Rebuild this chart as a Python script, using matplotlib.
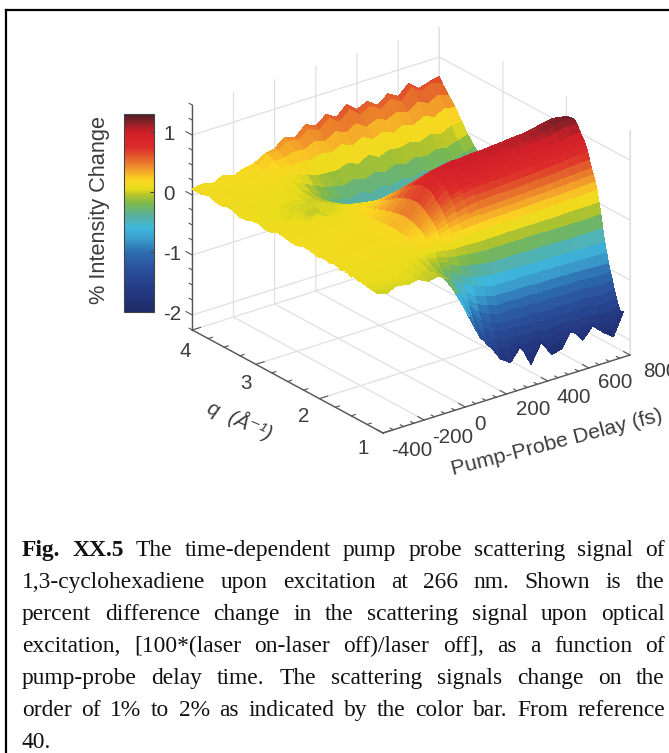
#!/usr/bin/env python3

import numpy as np
import matplotlib
matplotlib.use("Agg")
import matplotlib.pyplot as plt
from matplotlib.cm import ScalarMappable
from matplotlib.colors import LinearSegmentedColormap, Normalize
from matplotlib.lines import Line2D
from matplotlib.transforms import Affine2D
from mpl_toolkits.mplot3d import proj3d

delay = [-400, -350, -300, -250, -200, -150, -100, -50, 0, 50, 100, 150, 200,
         250, 300, 350, 400, 450, 500, 550, 600, 650, 700, 750, 800]
q_values = [1.10, 1.13, 1.16, 1.19, 1.22, 1.25, 1.28, 1.31, 1.34, 1.37, 1.40, 1.43, 1.46, 1.49,
            1.52, 1.55, 1.58, 1.61, 1.64, 1.67, 1.70, 1.73, 1.78, 1.83, 1.88, 1.93, 1.98, 2.05,
            2.15, 2.25, 2.35, 2.45, 2.55, 2.65, 2.75, 2.85, 2.95, 3.05, 3.15, 3.25, 3.35, 3.45,
            3.55, 3.65, 3.75, 3.85, 3.95, 4.00]
# one row per q value, one column per delay, in hundredths of a percent
intensity = [
    [2,-3,5,0,4,-5,-2,-12,-42,-85,-125,-145,-172,-184,-162,-198,-166,-192,-188,-160,-185,-166,-182,-195,-158],
    [3,0,4,2,3,-4,-1,-13,-44,-83,-120,-146,-162,-174,-165,-183,-168,-180,-176,-166,-178,-168,-178,-182,-160],
    [3,6,0,7,2,-2,1,-14,-42,-78,-114,-138,-152,-162,-158,-166,-160,-170,-166,-164,-168,-162,-170,-172,-160],
    [4,3,4,5,4,-1,0,-13,-40,-74,-107,-130,-143,-150,-148,-153,-150,-156,-153,-152,-155,-152,-157,-158,-151],
    [5,2,6,3,5,0,-3,-12,-37,-68,-98,-120,-132,-138,-136,-140,-138,-142,-140,-140,-142,-140,-144,-144,-140],
    [4,6,3,6,2,3,-2,-11,-34,-62,-89,-109,-120,-126,-125,-128,-126,-129,-128,-128,-130,-128,-131,-132,-129],
    [6,8,4,7,2,4,0,-10,-30,-56,-80,-97,-107,-112,-110,-113,-112,-114,-113,-114,-115,-114,-116,-117,-115],
    [5,4,7,3,6,2,2,-8,-26,-49,-70,-86,-94,-99,-98,-100,-99,-101,-100,-101,-102,-101,-103,-104,-103],
    [8,5,9,4,7,3,2,-7,-22,-42,-60,-74,-81,-85,-85,-86,-85,-87,-87,-87,-88,-88,-89,-90,-90],
    [6,9,5,8,4,5,3,-5,-18,-34,-49,-60,-66,-70,-70,-71,-70,-71,-71,-72,-72,-73,-73,-74,-74],
    [6,10,5,9,5,6,3,-3,-14,-26,-38,-46,-51,-54,-54,-55,-55,-56,-56,-56,-57,-57,-58,-58,-58],
    [9,6,9,5,8,4,5,-1,-8,-16,-24,-29,-32,-35,-35,-35,-35,-36,-36,-36,-37,-37,-37,-37,-37],
    [10,6,10,6,10,5,6,2,-3,-7,-10,-12,-14,-15,-15,-15,-15,-15,-15,-16,-16,-16,-16,-16,-15],
    [7,11,7,10,5,9,6,5,3,2,1,1,0,0,0,1,1,1,1,1,1,2,2,2,3],
    [7,11,8,12,6,10,8,8,10,11,12,14,15,16,16,17,17,18,18,19,19,20,20,21,22],
    [11,8,11,8,11,8,10,10,13,17,20,23,25,26,27,27,28,28,29,30,30,31,32,33,34],
    [9,12,9,11,9,10,9,12,16,22,27,31,34,35,36,37,37,38,39,39,40,41,42,43,44],
    [12,8,12,8,12,8,11,13,19,27,33,38,41,43,44,45,45,46,47,48,49,50,51,52,53],
    [9,12,10,13,9,11,10,14,22,32,41,47,51,54,55,56,56,57,58,59,60,61,63,64,65],
    [8,13,10,14,9,12,10,16,25,37,47,55,60,63,64,65,66,67,68,69,71,72,74,76,77],
    [12,10,13,10,12,9,12,17,27,41,53,62,67,71,72,73,73,75,76,77,79,80,82,84,85],
    [11,13,11,13,11,12,11,18,29,44,57,67,73,77,78,79,80,81,82,84,86,87,89,92,93],
    [13,10,14,10,13,9,13,19,31,48,62,74,80,84,85,86,87,88,90,91,93,95,97,100,101],
    [10,14,11,15,10,14,12,21,35,52,69,81,88,92,93,94,96,97,99,101,103,105,109,113,112],
    [12,11,15,11,14,11,13,21,36,56,73,86,94,98,97,100,99,103,101,105,106,110,115,120,118],
    [13,10,16,11,15,11,14,22,37,58,76,90,97,101,99,104,101,106,104,108,109,113,118,123,118],
    [11,14,11,15,12,14,12,22,37,57,75,89,96,100,99,102,101,104,103,106,107,110,115,119,116],
    [10,15,10,16,11,15,12,22,36,56,74,87,94,97,97,99,99,101,102,104,105,108,112,115,112],
    [14,10,14,10,14,11,13,21,33,51,67,78,83,86,85,87,87,89,89,91,93,95,98,100,98],
    [14,9,15,10,16,10,14,20,30,45,58,66,70,72,71,73,72,75,74,76,78,80,82,84,82],
    [10,13,9,14,9,13,10,18,26,37,48,54,58,58,60,58,61,59,62,60,64,63,66,66,64],
    [10,14,9,15,10,14,10,16,22,30,38,42,46,44,48,45,49,46,50,47,52,50,54,52,50],
    [13,8,13,8,13,7,10,14,18,23,27,30,30,33,29,34,29,33,30,34,31,35,33,36,34],
    [14,8,14,9,15,8,12,13,15,17,16,18,15,19,16,20,15,19,16,20,17,21,18,20,19],
    [9,13,6,12,5,9,4,9,10,10,7,6,3,7,3,8,2,7,4,8,4,9,6,9,8],
    [8,13,4,11,-2,6,-3,6,6,3,0,-3,-6,-3,-7,-3,-7,-2,-6,-2,-6,-2,-5,-2,-3],
    [12,5,9,1,7,-4,1,3,1,-4,-9,-13,-17,-13,-18,-14,-18,-12,-16,-12,-16,-11,-14,-10,-9],
    [11,5,10,-2,8,-5,3,2,-3,-10,-17,-22,-27,-23,-28,-24,-29,-23,-27,-22,-26,-20,-23,-18,-16],
    [7,11,5,9,0,6,0,0,-6,-15,-24,-30,-36,-31,-37,-32,-38,-31,-35,-30,-34,-28,-30,-24,-21],
    [6,10,4,9,1,6,2,-1,-9,-20,-30,-37,-42,-38,-44,-40,-45,-38,-43,-37,-40,-34,-37,-30,-26],
    [11,6,11,5,10,4,6,1,-8,-21,-32,-39,-45,-41,-47,-42,-47,-41,-45,-39,-43,-36,-38,-32,-27],
    [12,7,12,6,12,5,7,2,-6,-18,-28,-36,-40,-35,-42,-36,-40,-34,-38,-32,-36,-28,-30,-24,-18],
    [8,14,7,14,8,13,9,8,1,-8,-16,-20,-24,-18,-25,-18,-23,-16,-20,-14,-19,-12,-15,-9,-4],
    [10,14,8,15,9,14,10,13,9,5,-2,-3,-4,3,-5,5,-4,3,0,5,0,7,2,10,12],
    [14,7,15,8,16,9,15,20,19,20,18,23,20,28,20,29,20,27,20,28,22,32,24,34,30],
    [9,15,10,17,10,17,16,26,27,32,30,38,33,44,36,46,35,42,36,44,38,50,42,50,44],
    [10,15,9,18,11,18,18,32,32,44,40,52,46,60,48,64,50,58,48,60,50,68,56,64,58],
    [10,13,8,17,10,17,20,30,34,48,42,58,50,64,54,70,56,64,52,66,56,72,58,64,68],
]

delay_ticks = [-400, -200, 0, 200, 400, 600, 800]
delay_minor = list(range(-400, 801, 50))
q_ticks = [1, 2, 3, 4]
q_minor = [1, 1.25, 1.5, 1.75, 2, 2.25, 2.5, 2.75, 3, 3.25, 3.5, 3.75, 4]
z_ticks = [-2, -1, 0, 1]
z_minor = [-2.25, -2, -1.75, -1.5, -1.25, -1, -0.75, -0.5, -0.25, 0, 0.25, 0.5, 0.75, 1, 1.25, 1.5]
bar_ticks = [-2, -1, 0, 1]

caption = [
    "Fig. XX.5 The time-dependent pump probe scattering signal of",
    "1,3-cyclohexadiene upon excitation at 266 nm. Shown is the",
    "percent difference change in the scattering signal upon optical",
    "excitation, [100*(laser on-laser off)/laser off], as a function of",
    "pump-probe delay time. The scattering signals change on the",
    "order of 1% to 2% as indicated by the color bar. From reference",
    "40.",
]

# colour bar stops, value then colour
stops = [(-2.0, "#1c2a66"), (-1.7, "#24367f"), (-1.3, "#2a4f9a"), (-1.0, "#2d6db0"),
         (-0.8, "#3a9acb"), (-0.6, "#3fb8dc"), (-0.4, "#58b0a0"), (-0.2, "#7ab84e"),
         (-0.05, "#b4c42c"), (0.05, "#e8dc1c"), (0.2, "#fbd722"), (0.35, "#f4a52a"),
         (0.55, "#e4652c"), (0.75, "#dc2a2a"), (1.0, "#d01f28"), (1.15, "#8e2028"),
         (1.3, "#4a1c24")]

W, H = 669, 753
TEXT = "#3c3c3c"
plt.rcParams["font.family"] = ["Liberation Sans", "DejaVu Sans"]
plt.rcParams["axes.unicode_minus"] = False

norm = Normalize(-2, 1.3)
cmap = LinearSegmentedColormap.from_list(
    "bar", [((v + 2) / 3.3, c) for v, c in stops], N=512)

fig = plt.figure(figsize=(W / 100, H / 100), dpi=100)
# pixels measured from the top left
px = Affine2D().scale(1, -1).translate(0, H)

ax = fig.add_axes([0, 0, 1, W / H], projection="3d", proj_type="ortho", computed_zorder=False)
ax.view_init(elev=24.4, azim=-127.4)
ax.set_box_aspect((311, 314, 247))
ax.set_xlim(-400, 800, view_margin=0)
ax.set_ylim(1, 4, view_margin=0)
ax.set_zlim(-2.25, 1.5, view_margin=0)
ax.set_xticks(delay_ticks, [""] * len(delay_ticks))
ax.set_yticks(q_ticks, [""] * len(q_ticks))
ax.set_zticks(z_ticks, [""] * len(z_ticks))
ax.patch.set_alpha(0)

for axis in (ax.xaxis, ax.yaxis, ax.zaxis):
    axis.set_pane_color((1, 1, 1, 0))
    axis.pane.set_edgecolor((1, 1, 1, 0))
    axis.line.set_color((1, 1, 1, 0))
    axis._axinfo["grid"].update(color="#e0e0e0", linewidth=0.9)
    axis._axinfo["tick"]["inward_factor"] = 0
    axis._axinfo["tick"]["outward_factor"] = 0
ax.tick_params(color=(1, 1, 1, 0))

T, Q = np.meshgrid(delay, q_values)
ax.plot_surface(T, Q, np.array(intensity) / 100, cmap=cmap, norm=norm, rstride=1, cstride=1,
                linewidth=0, antialiased=False, shade=False, zorder=3)

# box edges and inward ticks
AXC = "#555555"
ax.plot([-400, 800], [1, 1], [-2.25, -2.25], color=AXC, lw=1.0, zorder=2)
ax.plot([-400, -400], [1, 4], [-2.25, -2.25], color=AXC, lw=1.0, zorder=2)
ax.plot([-400, -400], [4, 4], [-2.25, 1.5], color=AXC, lw=1.0, zorder=2)
ax.plot([800, 800], [1, 1], [-2.25, 1.5], color="#e0e0e0", lw=0.9, zorder=1)
for t in delay_minor:
    n = 0.1 if t in delay_ticks else 0.05
    ax.plot([t, t], [1, 1 + n], [-2.25, -2.25], color=AXC, lw=0.8, zorder=2)
for q in q_minor:
    n = 40 if q in q_ticks else 20
    ax.plot([-400, -400 + n], [q, q], [-2.25, -2.25], color=AXC, lw=0.8, zorder=2)
for z in z_minor:
    n = 0.1 if z in z_ticks else 0.05
    ax.plot([-400, -400], [4, 4 + n], [z, z], color=AXC, lw=0.8, zorder=2)


def project(x, y, z):
    xs, ys, _ = proj3d.proj_transform(x, y, z, ax.get_proj())
    return xs, ys


# scale the square axes so the floor corners land where they are in the picture
fig.canvas.draw()
a = ax.transData.transform(project(-400, 1, -2.25))
c = ax.transData.transform(project(800, 1, -2.25))
scale = (630 - 383) / (c[0] - a[0])
ax.set_position([(383 - a[0] * scale) / W, (H - 433 - a[1] * scale) / H,
                 W * scale / W, W * scale / H])
fig.canvas.draw()

delay_off = [(29, 17), (29, 18), (15, 18), (27, 16), (26, 17), (26, 15), (30, 17)]
for t, off in zip(delay_ticks, delay_off):
    ax.annotate(str(t), project(t, 1, -2.25), xytext=(off[0], -off[1]), textcoords="offset pixels",
                ha="center", va="center", fontsize=14.8, color=TEXT, annotation_clip=False)
q_off = [(-20, 15), (-16, 18), (-10, 19), (-7, 22)]
for q, off in zip(q_ticks, q_off):
    ax.annotate(str(q), project(-400, q, -2.25), xytext=(off[0], -off[1]), textcoords="offset pixels",
                ha="center", va="center", fontsize=14.8, color=TEXT, annotation_clip=False)

fig.text(557, 443, "Pump-Probe Delay (fs)", transform=px, rotation=14.5, rotation_mode="anchor",
         ha="center", va="center", fontsize=15.4, color=TEXT)
fig.text(240, 420, "q  (Å⁻¹)", transform=px, rotation=-24, rotation_mode="anchor",
         ha="center", va="center", fontsize=15, color=TEXT, style="italic")
fig.text(100, 210, "% Intensity Change", transform=px, rotation=90,
         ha="center", va="center", fontsize=15.7, color=TEXT)

cax = fig.add_axes([124 / W, (H - 312) / H, 30 / W, 198 / H])
bar = fig.colorbar(ScalarMappable(norm=norm, cmap=cmap), cax=cax, ticks=bar_ticks)
bar.outline.set_edgecolor("#444444")
bar.outline.set_linewidth(0.8)
cax.tick_params(labelsize=14.8, labelcolor=TEXT, direction="in", length=3, width=0.8,
                color="#444444", pad=6.5)

# frame, open at the bottom and on the right
fig.add_artist(Line2D([6, 6], [10, H], transform=px, color="black", lw=1.6))
fig.add_artist(Line2D([6, W], [10, 10], transform=px, color="black", lw=1.6))

# caption, each full line justified between the margins
renderer = fig.canvas.get_renderer()
LEFT, RIGHT = 22, 665
for i, line in enumerate(caption):
    words = line.split()
    weights = ["bold" if i == 0 and k < 2 else "normal" for k in range(len(words))]
    items = [fig.text(0, 0, w, transform=px, fontsize=16.9, family="Liberation Serif",
                      fontweight=wt, color="#111111", va="baseline")
             for w, wt in zip(words, weights)]
    widths = [it.get_window_extent(renderer).width for it in items]
    last = i == len(caption) - 1
    gap = 6 if last else (RIGHT - LEFT - sum(widths)) / (len(words) - 1)
    x = LEFT
    for it, w in zip(items, widths):
        it.set_position((x, 556 + 32 * i))
        x += w + gap

fig.savefig("out.png", dpi=100)
